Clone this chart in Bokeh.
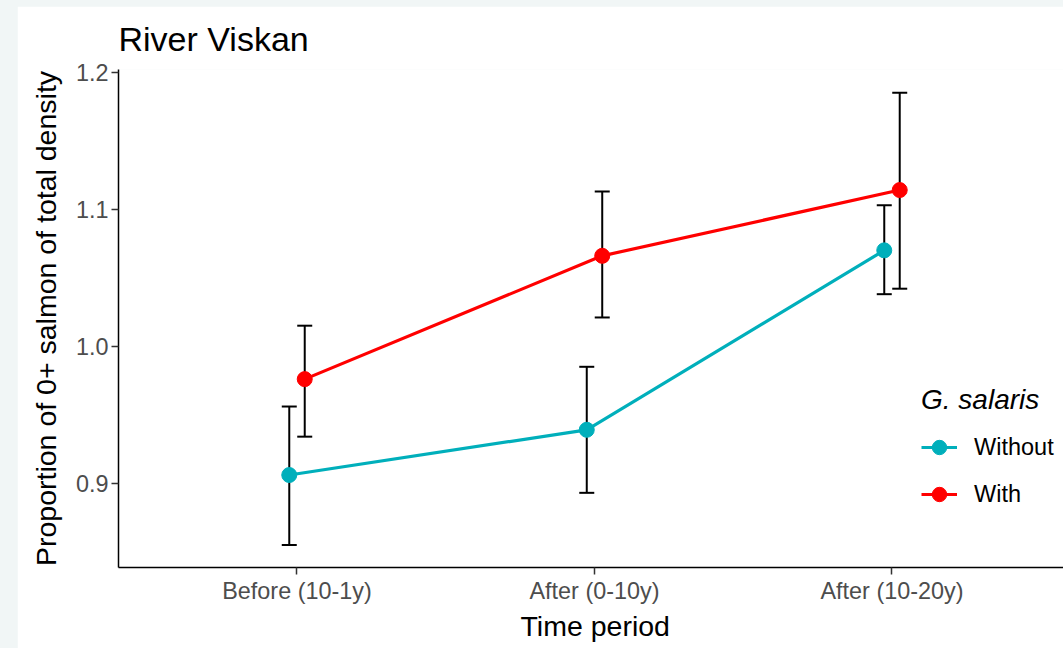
from bokeh.plotting import figure
from bokeh.layouts import column
from bokeh.models import (ColumnDataSource, Whisker, TeeHead, FixedTicker, Title, Range1d)
from bokeh.embed import file_html
from bokeh.resources import INLINE

# ---- data ----
periods = ["Before (10-1y)", "After (0-10y)", "After (10-20y)"]
groups = ["Without", "With"]
without_mean = [0.906, 0.939, 1.070]
without_lower = [0.855, 0.893, 1.038]
without_upper = [0.956, 0.985, 1.103]
with_mean = [0.976, 1.066, 1.114]
with_lower = [0.934, 1.021, 1.042]
with_upper = [1.015, 1.113, 1.185]
colors = ["#00AFBB", "#FF0000"]
y_ticks = [0.9, 1.0, 1.1, 1.2]

FONT = "Liberation Sans"
dodge = 0.026

p = figure(width=1046, height=642, output_backend="svg", toolbar_location=None,
           x_range=Range1d(0.4, 3.5765), y_range=Range1d(0.8385, 1.202),
           min_border_left=101, min_border_top=63, min_border_bottom=81,
           min_border_right=0)
p.background_fill_color = "white"
p.border_fill_color = "white"
p.outline_line_color = None
p.xgrid.visible = False
p.ygrid.visible = False

p.title.text = "River Viskan"
p.title.text_font = FONT
p.title.text_font_size = "34px"
p.title.text_font_style = "normal"
p.title.text_color = "black"
p.title.standoff = 20
p.title.vertical_align = "top"

series = [(without_mean, without_lower, without_upper, -dodge),
          (with_mean, with_lower, with_upper, dodge)]
for (m, lo, hi, off), g, c in zip(series, groups, colors):
    xs = [i + 1 + off for i in range(len(periods))]
    src = ColumnDataSource(dict(x=xs, y=m, lower=lo, upper=hi))
    w = Whisker(base="x", upper="upper", lower="lower", source=src, dimension="height",
                line_width=2, line_color="black",
                upper_head=TeeHead(size=15, line_width=2, line_color="black"),
                lower_head=TeeHead(size=15, line_width=2, line_color="black"))
    p.add_layout(w)
    p.line("x", "y", source=src, line_width=3.2, line_color=c, legend_label=g)
    p.scatter("x", "y", source=src, size=15, fill_color=c, line_color=c, legend_label=g)

# axes
xa = p.xaxis[0]
xa.ticker = FixedTicker(ticks=[1, 2, 3])
xa.major_label_overrides = {i + 1: lab for i, lab in enumerate(periods)}
ya = p.yaxis[0]
ya.ticker = FixedTicker(ticks=y_ticks)
ya.major_label_overrides = {v: f"{v:.1f}" for v in y_ticks}
for ax in (xa, ya):
    ax.axis_line_color = "black"
    ax.axis_line_width = 1.5
    ax.major_tick_line_color = "#333333"
    ax.major_tick_line_width = 1.5
    ax.major_tick_out = 7
    ax.major_tick_in = 0
    ax.minor_tick_line_color = None
    ax.major_label_text_font = FONT
    ax.major_label_text_font_size = "23.4px"
    ax.major_label_text_color = "#4D4D4D"
    ax.axis_label_text_font = FONT
    ax.axis_label_text_font_size = "28.5px"
    ax.axis_label_text_font_style = "normal"
    ax.axis_label_text_color = "black"
ya.axis_label = "Proportion of 0+ salmon of total density"
ya.major_label_standoff = 3
ya.axis_label_standoff = 11
xa.major_label_standoff = 3

xt = Title(text="Time period", align="left", offset=402, text_font=FONT,
           text_font_size="28.5px", text_font_style="normal", text_color="black",
           standoff=2)
p.add_layout(xt, "below")

lg = p.legend[0]
lg.location = (803, 55)
lg.title = "G. salaris"
lg.title_text_font = FONT
lg.title_text_font_style = "italic"
lg.title_text_font_size = "28px"
lg.title_text_color = "black"
lg.title_standoff = 13
lg.label_text_font = FONT
lg.label_text_font_size = "23.5px"
lg.label_text_color = "black"
lg.glyph_width = 36
lg.glyph_height = 36
lg.label_standoff = 17
lg.spacing = 11
lg.padding = 0
lg.margin = 0
lg.border_line_color = None
lg.background_fill_alpha = 0

page = column(p, styles={"background-color": "#f1f6f6", "padding-left": "17px",
                         "padding-top": "6px"})
open("out.html", "w").write(file_html(page, INLINE))
